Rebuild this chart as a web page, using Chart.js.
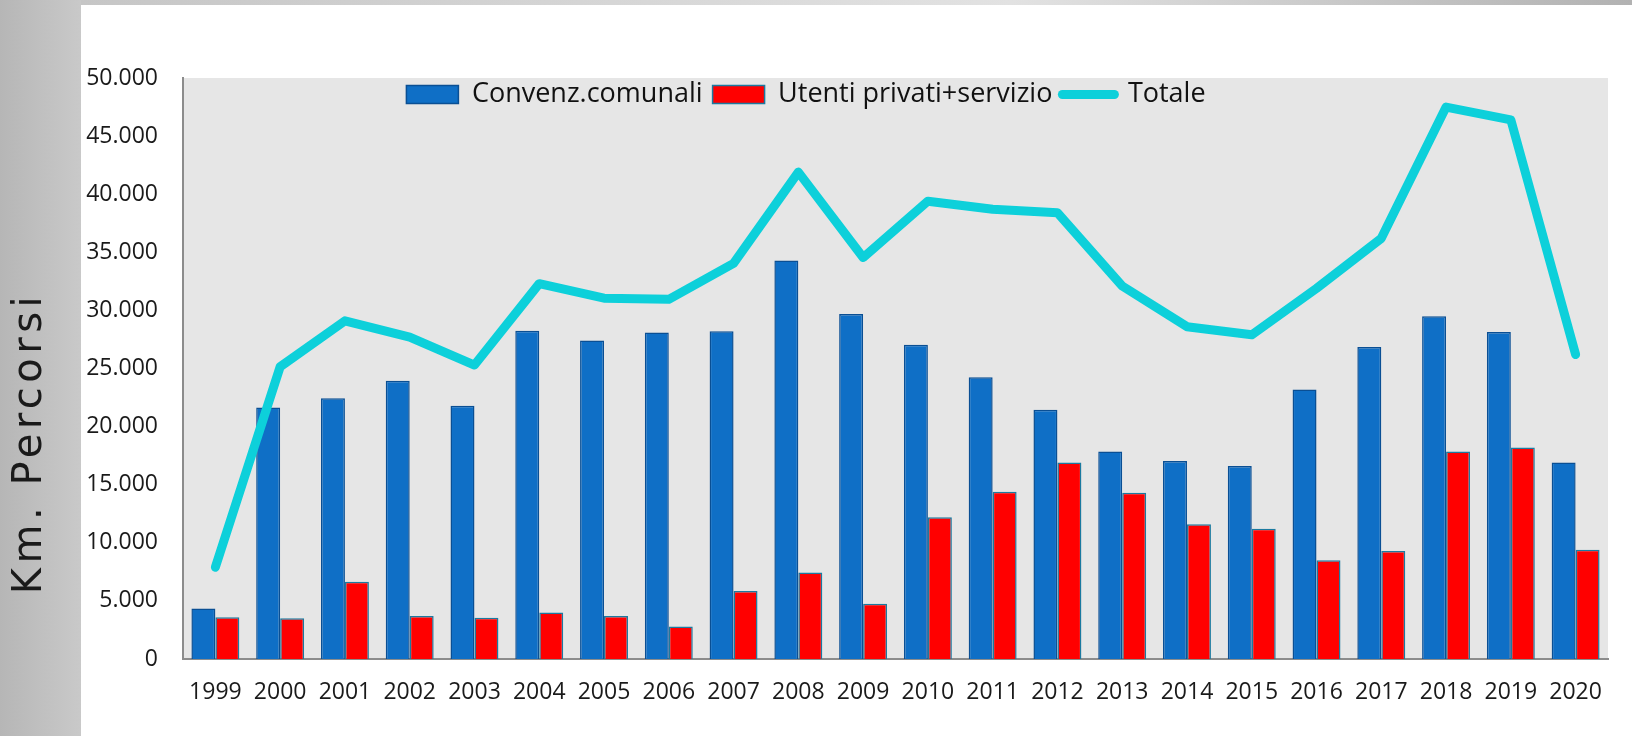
<!DOCTYPE html>
<html lang="it">
<head>
<meta charset="utf-8">
<title>Km. Percorsi</title>
<script src="https://cdn.jsdelivr.net/npm/chart.js@4.4.1/dist/chart.umd.min.js"></script>
<style>
  html, body { margin: 0; padding: 0; background: #fff; }
  #grafico { display: block; }
</style>
</head>
<body>
<canvas id="grafico" width="1632" height="736"></canvas>
<script>
// valori
const anni = ['1999', '2000', '2001', '2002', '2003', '2004', '2005', '2006', '2007', '2008', '2009',
              '2010', '2011', '2012', '2013', '2014', '2015', '2016', '2017', '2018', '2019', '2020'];
const convenzComunali = [4350, 21650, 22450, 23950, 21800, 28250, 27400, 28100, 28200, 34300, 29700,
                         27050, 24250, 21450, 17850, 17050, 16600, 23200, 26850, 29500, 28150, 16900];
const utentiPrivati = [3600, 3500, 6650, 3700, 3550, 4000, 3700, 2800, 5850, 7450, 4750,
                       12200, 14400, 16900, 14300, 11600, 11200, 8500, 9300, 17850, 18200, 9400];
const totale = [7900, 25150, 29100, 27700, 25300, 32300, 31050, 30950, 34050, 41900, 34550,
                39400, 38700, 38400, 32100, 28600, 27900, 31900, 36200, 47500, 46400, 26200];
const yMax = 50000;
const yStep = 5000;

const BLU = '#0f6fc6';
const ROSSO = '#ff0000';
const CIANO = '#0dd0da';

function migliaia(v) {
  return String(v).replace(/\B(?=(\d{3})+(?!\d))/g, '.');
}

// sfondo pagina, area grafico e titolo asse
const sfondo = {
  id: 'sfondo',
  beforeDraw(chart) {
    const { ctx, width, height, chartArea } = chart;
    ctx.save();
    ctx.fillStyle = '#fff';
    ctx.fillRect(0, 0, width, height);

    let g = ctx.createLinearGradient(0, 0, 81, 0);
    g.addColorStop(0, '#b6b6b6');
    g.addColorStop(1, '#c9c9c9');
    ctx.fillStyle = g;
    ctx.fillRect(0, 0, 81, height);

    g = ctx.createLinearGradient(81, 0, width, 0);
    g.addColorStop(0, '#c6c6c6');
    g.addColorStop(0.6, '#e2e2e2');
    g.addColorStop(1, '#b2b2b2');
    ctx.fillStyle = g;
    ctx.fillRect(81, 0, width - 81, 5);

    ctx.fillStyle = '#e6e6e6';
    ctx.fillRect(chartArea.left, chartArea.top, chartArea.right - chartArea.left, chartArea.bottom - chartArea.top);

    ctx.translate(31, 443);
    ctx.rotate(-Math.PI / 2);
    ctx.font = '40px "DejaVu Sans"';
    ctx.letterSpacing = '4.5px';
    ctx.fillStyle = '#1a1a1a';
    ctx.textAlign = 'center';
    ctx.textBaseline = 'middle';
    ctx.fillText('Km. Percorsi', 0, 0);
    ctx.restore();
  },
  afterUpdate(chart) {
    // la legenda sta dentro l'area del grafico
    const lg = chart.legend;
    const dx = 806 - (lg.left + lg.right) / 2;
    lg.left += dx;
    lg.right += dx;
    lg.top = 71;
    lg.bottom = 71 + 45;
    lg.height = 45;
  }
};

const fontTick = { family: '"Open Sans"', size: 23 };

new Chart(document.getElementById('grafico'), {
  data: {
    labels: anni,
    datasets: [
      {
        type: 'bar',
        label: 'Convenz.comunali',
        data: convenzComunali,
        backgroundColor: BLU,
        borderColor: '#0a4f94',
        borderWidth: 1.5,
        categoryPercentage: 0.74,
        barPercentage: 1,
        order: 1
      },
      {
        type: 'bar',
        label: 'Utenti privati+servizio',
        data: utentiPrivati,
        backgroundColor: ROSSO,
        borderColor: '#1b7aa0',
        borderWidth: 1.5,
        categoryPercentage: 0.74,
        barPercentage: 1,
        order: 2
      },
      {
        type: 'line',
        label: 'Totale',
        data: totale,
        borderColor: CIANO,
        backgroundColor: CIANO,
        borderWidth: 9,
        borderCapStyle: 'round',
        borderJoinStyle: 'round',
        pointRadius: 0,
        fill: false,
        tension: 0,
        order: 0
      }
    ]
  },
  options: {
    responsive: false,
    animation: false,
    devicePixelRatio: 1,
    layout: { padding: { top: 77, right: 24, bottom: 0, left: 0 } },
    scales: {
      x: {
        grid: { display: false, drawTicks: false },
        border: { display: true, color: '#8c8c8c', width: 2 },
        ticks: { font: fontTick, color: '#1a1a1a', padding: 20, maxRotation: 0, autoSkip: false },
        afterFit(s) { s.height = 77; }
      },
      y: {
        min: 0,
        max: yMax,
        grid: { display: false, drawTicks: false },
        border: { display: true, color: '#8c8c8c', width: 2 },
        ticks: {
          stepSize: yStep,
          padding: 25,
          font: fontTick,
          color: '#1a1a1a',
          callback: v => migliaia(v)
        },
        afterFit(s) { s.width = 183; }
      }
    },
    plugins: {
      legend: {
        position: 'top',
        maxHeight: 1,
        labels: {
          usePointStyle: true,
          pointStyleWidth: 52,
          boxHeight: 18,
          padding: 10,
          color: '#111',
          font: { family: '"Open Sans"', size: 27 },
          sort: (a, b) => a.datasetIndex - b.datasetIndex,
          generateLabels(chart) {
            const items = Chart.defaults.plugins.legend.labels.generateLabels(chart);
            items.forEach(it => {
              const ds = chart.data.datasets[it.datasetIndex];
              if (ds.type === 'line') {
                it.pointStyle = 'line';
                it.lineWidth = 9;
                it.strokeStyle = CIANO;
                it.lineCap = 'round';
              } else {
                it.pointStyle = 'rect';
              }
            });
            return items;
          }
        }
      },
      tooltip: { enabled: false }
    }
  },
  plugins: [sfondo]
});
</script>
</body>
</html>
